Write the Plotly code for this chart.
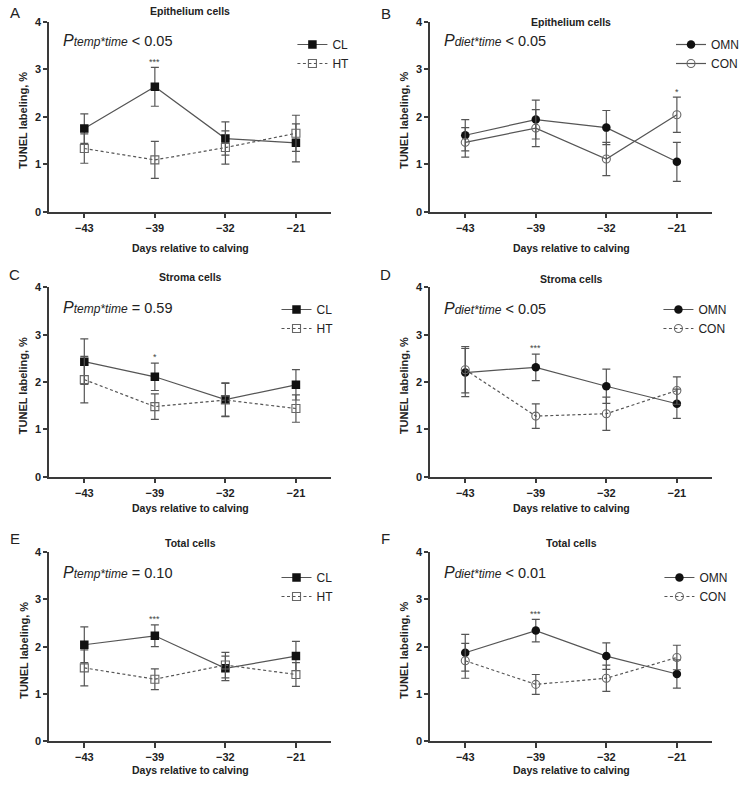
import plotly.graph_objects as go

W, H = 744, 785
days = ["\u221243", "\u221239", "\u221232", "\u221221"]

# Panel A - Epithelium, temperature
A_CL = [1.75, 2.63, 1.54, 1.45]
A_CL_err = [0.31, 0.41, 0.35, 0.40]
A_HT = [1.33, 1.09, 1.35, 1.65]
A_HT_err = [0.31, 0.39, 0.35, 0.38]
# Panel B - Epithelium, diet
B_OMN = [1.61, 1.94, 1.77, 1.05]
B_OMN_err = [0.33, 0.41, 0.36, 0.41]
B_CON = [1.46, 1.76, 1.11, 2.04]
B_CON_err = [0.31, 0.39, 0.35, 0.37]
# Panel C - Stroma, temperature
C_CL = [2.43, 2.11, 1.63, 1.94]
C_CL_err = [0.48, 0.29, 0.35, 0.32]
C_HT = [2.05, 1.48, 1.62, 1.44]
C_HT_err = [0.49, 0.27, 0.35, 0.29]
# Panel D - Stroma, diet
D_OMN = [2.20, 2.31, 1.91, 1.54]
D_OMN_err = [0.51, 0.28, 0.36, 0.31]
D_CON = [2.26, 1.28, 1.33, 1.82]
D_CON_err = [0.49, 0.26, 0.35, 0.29]
# Panel E - Total, temperature
E_CL = [2.04, 2.23, 1.54, 1.80]
E_CL_err = [0.38, 0.23, 0.26, 0.31]
E_HT = [1.55, 1.31, 1.61, 1.41]
E_HT_err = [0.38, 0.22, 0.27, 0.25]
# Panel F - Total, diet
F_OMN = [1.87, 2.34, 1.80, 1.42]
F_OMN_err = [0.39, 0.24, 0.28, 0.30]
F_CON = [1.70, 1.20, 1.33, 1.77]
F_CON_err = [0.37, 0.21, 0.28, 0.26]

letters = ["A", "B", "C", "D", "E", "F"]
titles = ["Epithelium cells", "Epithelium cells", "Stroma cells", "Stroma cells",
          "Total cells", "Total cells"]
p_factor = ["temp", "diet", "temp", "diet", "temp", "diet"]
p_value = ["< 0.05", "< 0.05", "= 0.59", "< 0.05", "= 0.10", "< 0.01"]
sig_day = ["\u221239", "\u221221", "\u221239", "\u221239", "\u221239", "\u221239"]
sig_text = ["***", "*", "*", "***", "***", "***"]

series = [
    (("CL", A_CL, A_CL_err), ("HT", A_HT, A_HT_err)),
    (("OMN", B_OMN, B_OMN_err), ("CON", B_CON, B_CON_err)),
    (("CL", C_CL, C_CL_err), ("HT", C_HT, C_HT_err)),
    (("OMN", D_OMN, D_OMN_err), ("CON", D_CON, D_CON_err)),
    (("CL", E_CL, E_CL_err), ("HT", E_HT, E_HT_err)),
    (("OMN", F_OMN, F_OMN_err), ("CON", F_CON, F_CON_err)),
]

# layout (pixels)
col_x = [(49.3, 333.0), (432.3, 716.0)]
row_y = [(21.7, 211.7), (287.3, 476.7), (552.3, 741.0)]
letter_pos = [(15, 13), (388, 14), (15, 275), (388, 275), (15, 538), (388, 538)]
title_y = [11, 22, 277, 279, 543, 543]
ptext_y = [41, 41, 307, 308, 572, 572]
xtitle_y = [248, 248, 508, 508, 770, 770]
legend_pos = [(294, 30), (675, 30), (278, 295), (662, 295), (278, 563), (663, 563)]

FONT = "Liberation Sans, Arial, sans-serif"
LINE_C = "#555555"
DARK = "#222222"

fig = go.Figure()
layout = dict(
    width=W, height=H, margin=dict(l=0, r=0, t=0, b=0),
    paper_bgcolor="white", plot_bgcolor="white",
    font=dict(family=FONT, color=DARK, size=11),
    annotations=[],
)

for i in range(6):
    r, c = divmod(i, 2)
    k = "" if i == 0 else str(i + 1)
    xa, ya = "x" + k, "y" + k
    lg = "legend" + k
    x0, x1 = col_x[c]
    y0, y1 = row_y[r]
    (n1, v1, e1), (n2, v2, e2) = series[i]
    is_temp = p_factor[i] == "temp"
    sym_f = "square" if is_temp else "circle"
    sym_o = "square-open" if is_temp else "circle-open"
    dash2 = "solid" if i == 1 else "3px,2.5px"

    fig.add_trace(go.Scatter(
        x=days, y=v1, name=n1, mode="lines+markers", xaxis=xa, yaxis=ya, legend=lg,
        line=dict(color=LINE_C, width=1.2),
        marker=dict(symbol=sym_f, size=8.5, color="#111111", line=dict(width=0)),
        error_y=dict(type="data", array=e1, visible=True, color=LINE_C, thickness=1.2, width=4),
    ))
    fig.add_trace(go.Scatter(
        x=days, y=v2, name=n2, mode="lines+markers", xaxis=xa, yaxis=ya, legend=lg,
        line=dict(color=LINE_C, width=1.2, dash=dash2),
        marker=dict(symbol=sym_o, size=8, color="#666666", line=dict(width=1.1, color="#666666")),
        error_y=dict(type="data", array=e2, visible=True, color=LINE_C, thickness=1.2, width=4),
    ))

    axis_common = dict(showline=True, linecolor="#3a3a3a", linewidth=1.5, ticks="outside",
                       tickcolor="#3a3a3a", tickwidth=1.5, showgrid=False, zeroline=False,
                       tickfont=dict(family=FONT, size=11, color=DARK, weight="bold"),
                       automargin=False)
    layout["xaxis" + k] = dict(axis_common, domain=[x0 / W, x1 / W], anchor=ya,
                               type="category", categoryorder="array", categoryarray=days,
                               range=[-0.5, 3.5], ticklen=5)
    layout["yaxis" + k] = dict(axis_common, domain=[1 - y1 / H, 1 - y0 / H], anchor=xa,
                               range=[0, 4], tickvals=[0, 1, 2, 3, 4], ticklen=4)

    lx, ly = legend_pos[i]
    layout[lg] = dict(x=lx / W, y=1 - ly / H, xanchor="left", yanchor="top",
                      bgcolor="rgba(0,0,0,0)", font=dict(family=FONT, size=12, color=DARK),
                      itemwidth=30, tracegroupgap=2)

    ann = layout["annotations"]
    # panel letter
    ann.append(dict(text=letters[i], xref="paper", yref="paper",
                    x=letter_pos[i][0] / W, y=1 - letter_pos[i][1] / H,
                    xanchor="center", yanchor="middle", showarrow=False,
                    font=dict(family=FONT, size=15, color=DARK)))
    # title
    ann.append(dict(text="<b>%s</b>" % titles[i], xref="paper", yref="paper",
                    x=(x0 + x1) / 2 / W, y=1 - title_y[i] / H,
                    xanchor="center", yanchor="middle", showarrow=False,
                    font=dict(family=FONT, size=10.5, color=DARK)))
    # P text
    ann.append(dict(text="<i><span style='font-size:16px'>P</span></i>"
                         "<i><span style='font-size:12px'>%s*time</span></i> %s"
                    % (p_factor[i], p_value[i]),
                    xref="paper", yref="paper", x=(x0 + 12) / W, y=1 - ptext_y[i] / H,
                    xanchor="left", yanchor="middle", showarrow=False,
                    font=dict(family=FONT, size=14.5, color=DARK)))
    # x axis title
    ann.append(dict(text="<b>Days relative to calving</b>", xref="paper", yref="paper",
                    x=(x0 + x1) / 2 / W, y=1 - xtitle_y[i] / H,
                    xanchor="center", yanchor="middle", showarrow=False,
                    font=dict(family=FONT, size=10.5, color=DARK)))
    # y axis title
    ann.append(dict(text="<b>TUNEL labeling, %</b>", xref="paper", yref="paper",
                    x=(x0 - 26) / W, y=1 - ((y0 + y1) / 2 + 4) / H, textangle=-90,
                    xanchor="center", yanchor="middle", showarrow=False,
                    font=dict(family=FONT, size=11, color=DARK)))
    # significance mark
    j = days.index(sig_day[i])
    top = max(v1[j] + e1[j], v2[j] + e2[j])
    ann.append(dict(text=sig_text[i], xref=xa, yref=ya, x=sig_day[i], y=top + 0.12,
                    xanchor="center", yanchor="middle", showarrow=False,
                    font=dict(family=FONT, size=9, color="#444444")))

fig.update_layout(**layout)
fig.write_html("out.html")
